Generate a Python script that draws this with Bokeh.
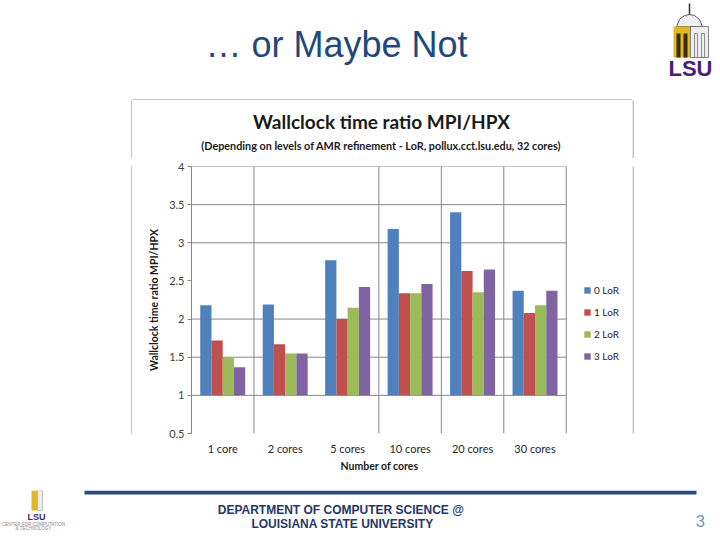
from bokeh.plotting import figure
from bokeh.models import ColumnDataSource, Range1d, FixedTicker, Legend, LegendItem
from bokeh.layouts import column, row
from bokeh.transform import dodge
from bokeh.core.properties import value
from bokeh.embed import file_html
from bokeh.resources import INLINE

# ---------------- data ----------------
cores = ["1 core", "2 cores", "5 cores", "10 cores", "20 cores", "30 cores"]
lor0 = [2.18, 2.19, 2.77, 3.18, 3.40, 2.37]
lor1 = [1.72, 1.67, 2.00, 2.34, 2.63, 2.08]
lor2 = [1.50, 1.55, 2.15, 2.34, 2.35, 2.18]
lor3 = [1.37, 1.55, 2.42, 2.46, 2.65, 2.37]
series_names = ["0 LoR", "1 LoR", "2 LoR", "3 LoR"]
y_ticks = [0.5, 1, 1.5, 2, 2.5, 3, 3.5, 4]
grid_y = [1, 1.5, 2, 3, 3.5, 4]

colors = ["#4F81BD", "#C0504D", "#9BBB59", "#8064A2"]
offsets = [-0.27, -0.09, 0.09, 0.27]
CHART_FONT = "Lato"
GRID = "#878787"
BORDER = "#8C8C8C"
PURPLE = "#461D7C"


def blank(w, h):
    f = figure(width=w, height=h, x_range=Range1d(0, w), y_range=Range1d(h, 0),
               x_axis_type=None, y_axis_type=None, min_border=0,
               output_backend="svg", toolbar_location=None)
    f.outline_line_color = None
    f.background_fill_color = "white"
    f.border_fill_color = "white"
    return f


def txt(f, x, y, s, font="Liberation Sans", size="11px", style="normal", color="#000000",
        align="center"):
    f.text(x=[x], y=[y], text=[s], text_font=value(font), text_font_size=value(size),
           text_font_style=style, text_color=color, text_align=align,
           text_baseline="middle")


# ---------------- top of slide ----------------
top = blank(720, 100)
txt(top, 336, 44, "\u2026 or Maybe Not", size="36px", color="#1F497D")
# LSU logo (simplified)
top.segment(x0=[689], y0=[3], x1=[689], y1=[14], line_color="#333333", line_width=1.5)
top.patch(x=[676, 679, 684, 689, 694, 699, 702], y=[26, 19, 15, 14, 15, 19, 26],
          fill_color="#F0F0F0", line_color="#333333", line_width=0.8)
top.quad(left=[673], right=[690], top=[26], bottom=[57], fill_color="#E2B725", line_color=None)
top.quad(left=[690], right=[708], top=[26], bottom=[57], fill_color="#EDEDED",
         line_color="#666666", line_width=0.8)
top.quad(left=[676, 683], right=[680, 687], top=[33, 33], bottom=[57, 57],
         fill_color="#3B2B0A", line_color=None)
top.quad(left=[694, 701], right=[697, 704], top=[33, 33], bottom=[57, 57],
         fill_color=None, line_color="#777777", line_width=0.8)
txt(top, 690, 67.5, "LSU", size="22px", style="bold", color=PURPLE)
# top border of the chart box
top.segment(x0=[132], y0=[99.5], x1=[632], y1=[99.5], line_color=BORDER, line_width=1)

# ---------------- chart heading row ----------------
left_a = blank(132, 58)
left_a.segment(x0=[131.5], y0=[0], x1=[131.5], y1=[58], line_color=BORDER, line_width=1)
right_a = blank(88, 58)
right_a.segment(x0=[0.5], y0=[0], x1=[0.5], y1=[58], line_color=BORDER, line_width=1)

head = blank(500, 58)
txt(head, 249, 20.5, "Wallclock time ratio MPI/HPX", font=CHART_FONT, size="19px", style="bold",
    color="#1A1A1A")
txt(head, 250, 45, "(Depending on levels of AMR refinement - LoR, pollux.cct.lsu.edu,  32 cores)",
    font=CHART_FONT, size="10.8px", style="bold", color="#1A1A1A")

# ---------------- chart row ----------------
left_b = blank(132, 332)
left_b.segment(x0=[131.5], y0=[0], x1=[131.5], y1=[332], line_color=BORDER, line_width=1)
right_b = blank(88, 332)
right_b.segment(x0=[0.5], y0=[0], x1=[0.5], y1=[332], line_color=BORDER, line_width=1)

n = len(cores)
xc = list(range(n))
src = ColumnDataSource(dict(xc=xc, cores=cores, lor0=lor0, lor1=lor1, lor2=lor2, lor3=lor3))
p = figure(width=435, height=332, x_range=Range1d(-0.5, n - 0.48), y_range=Range1d(0.5, 4),
           output_backend="svg", toolbar_location=None,
           min_border_left=59, min_border_right=0, min_border_top=8, min_border_bottom=57)
p.outline_line_color = None
p.background_fill_color = "white"
p.border_fill_color = "white"
p.xgrid.grid_line_color = None
p.ygrid.grid_line_color = None

# horizontal gridlines across the category area
p.segment(x0=[-0.5] * len(grid_y), x1=[n - 0.5] * len(grid_y), y0=grid_y, y1=grid_y,
          line_color=GRID, line_width=1)
# vertical category boundary lines
bx = [xc[i] - 0.5 for i in [0, 1, 3, 4, 5]] + [xc[-1] + 0.5]
p.segment(x0=bx, x1=bx, y0=[0.5] * len(bx), y1=[4] * len(bx), line_color=GRID, line_width=1)

for k, col in enumerate(["lor0", "lor1", "lor2", "lor3"]):
    p.vbar(x=dodge("xc", offsets[k]), top=col, bottom=1, width=0.18,
           source=src, fill_color=colors[k], line_color=None)

p.yaxis.ticker = FixedTicker(ticks=y_ticks)
p.yaxis.axis_line_color = GRID
p.yaxis.major_tick_line_color = GRID
p.yaxis.major_tick_out = 4
p.yaxis.major_tick_in = 0
p.yaxis.minor_tick_line_color = None
p.yaxis.major_label_text_font = CHART_FONT
p.yaxis.major_label_text_font_size = "11px"
p.yaxis.major_label_text_color = "#404040"
p.yaxis.major_label_standoff = 3
p.yaxis.axis_label = "Wallclock time ratio MPI/HPX"
p.yaxis.axis_label_text_font = CHART_FONT
p.yaxis.axis_label_text_font_style = "bold"
p.yaxis.axis_label_text_font_size = "10.5px"
p.yaxis.axis_label_text_color = "#1A1A1A"
p.yaxis.axis_label_standoff = 6

p.xaxis.ticker = FixedTicker(ticks=xc)
p.xaxis.major_label_overrides = {xc[i]: cores[i] for i in range(n)}
p.xaxis.axis_line_color = None
p.xaxis.major_tick_line_color = None
p.xaxis.minor_tick_line_color = None
p.xaxis.major_label_text_font = CHART_FONT
p.xaxis.major_label_text_font_size = "11px"
p.xaxis.major_label_text_color = "#262626"
p.xaxis.major_label_standoff = 2
p.xaxis.axis_label = "Number of cores"
p.xaxis.axis_label_text_font = CHART_FONT
p.xaxis.axis_label_text_font_style = "bold"
p.xaxis.axis_label_text_font_size = "10.5px"
p.xaxis.axis_label_text_color = "#1A1A1A"
p.xaxis.axis_label_standoff = 2

# legend panel (between plot area and chart border); zero-size swatch renderers
leg = blank(65, 332)
items = []
for k in range(4):
    r = leg.vbar(x=[0], top=[0], bottom=[0], width=0, fill_color=colors[k], line_color=None)
    items.append(LegendItem(label=series_names[k], renderers=[r]))
legend = Legend(items=items, location=(16, 71), border_line_color=None, background_fill_alpha=0,
                glyph_width=8, glyph_height=8, label_height=8, spacing=10, padding=0, margin=0,
                label_text_font=CHART_FONT, label_text_font_size="10px", label_text_color="#262626",
                label_standoff=3)
leg.add_layout(legend)

# ---------------- bottom of slide ----------------
bot = blank(720, 50)
bot.quad(left=[84], right=[696], top=[0], bottom=[4], fill_color="#2B4C7E", line_color=None)
txt(bot, 342, 19, "DEPARTMENT OF COMPUTER SCIENCE  @", size="12px", style="bold", color="#1F3864")
txt(bot, 342, 33, "LOUISIANA STATE UNIVERSITY", size="12px", style="bold", color="#1F3864")
txt(bot, 700, 30, "3", size="16px", color="#7F8FA9")
# small logo bottom-left (simplified)
bot.quad(left=[31], right=[37], top=[0], bottom=[20], fill_color="#E2B725", line_color=None)
bot.quad(left=[37], right=[42], top=[0], bottom=[20], fill_color="#EDEDED", line_color="#888888",
         line_width=0.5)
txt(bot, 36, 26, "LSU", size="9px", style="bold", color=PURPLE)
txt(bot, 33, 34, "CENTER FOR COMPUTATION", size="4.5px", color="#888888")
txt(bot, 33, 38, "& TECHNOLOGY", size="4.5px", color="#888888")

layout = column(top, row(left_a, head, right_a), row(left_b, p, leg, right_b), bot)

open("out.html", "w").write(file_html(layout, INLINE))
